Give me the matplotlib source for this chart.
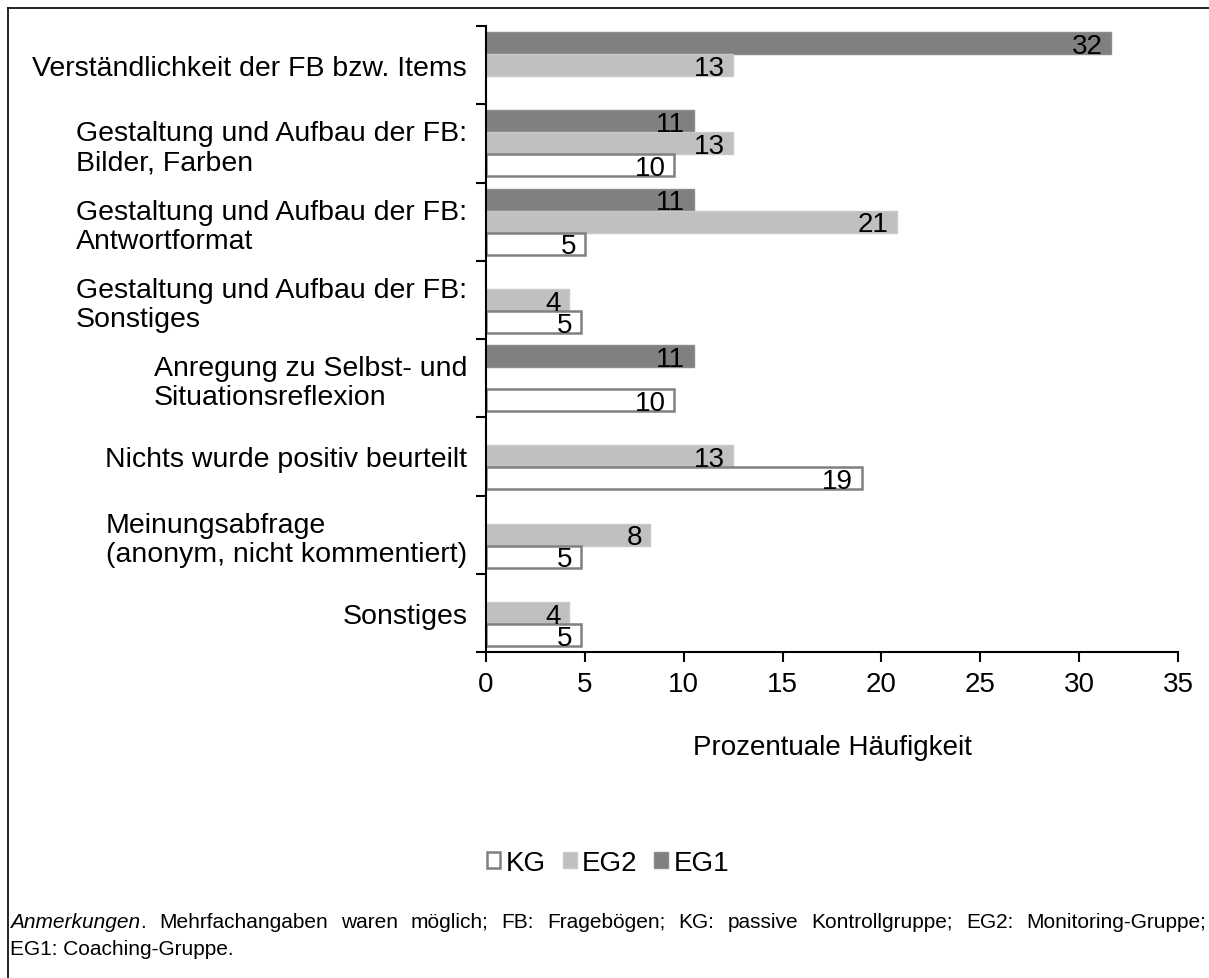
import numpy as np
import matplotlib
matplotlib.use("Agg")
import matplotlib.pyplot as plt
from matplotlib.lines import Line2D

plt.rcParams["font.family"] = ["Liberation Sans", "DejaVu Sans"]

categories = [
    "Verständlichkeit der FB bzw. Items",
    "Gestaltung und Aufbau der FB:\nBilder, Farben",
    "Gestaltung und Aufbau der FB:\nAntwortformat",
    "Gestaltung und Aufbau der FB:\nSonstiges",
    "Anregung zu Selbst- und\nSituationsreflexion",
    "Nichts wurde positiv beurteilt",
    "Meinungsabfrage\n(anonym, nicht kommentiert)",
    "Sonstiges",
]
# percentages (nan = no bar)
kg = [np.nan, 9.5, 5.0, 4.8, 9.5, 19.0, 4.8, 4.8]
eg2 = [12.5, 12.5, 20.8, 4.2, np.nan, 12.5, 8.3, 4.2]
eg1 = [31.6, 10.5, 10.5, np.nan, 10.5, np.nan, np.nan, np.nan]
# printed labels
kg_lab = [None, 10, 5, 5, 10, 19, 5, 5]
eg2_lab = [13, 13, 21, 4, None, 13, 8, 4]
eg1_lab = [32, 11, 11, None, 11, None, None, None]

note_words = ["Mehrfachangaben", "waren", "möglich;", "FB:", "Fragebögen;", "KG:", "passive",
              "Kontrollgruppe;", "EG2:", "Monitoring-Gruppe;"]
note_line2 = "EG1: Coaching-Gruppe."

FS = 20
W, H = 1209, 979
fig = plt.figure(figsize=(W / 100, H / 100), dpi=100)
ax = fig.add_axes([486 / W, 1 - 653 / H, (1178 - 486) / W, (653 - 27) / H])

y = np.arange(len(categories))
h = 0.281
series = [
    ("EG1", eg1, eg1_lab, -h, "#808080", "#8c8c8c", 1.0),
    ("EG2", eg2, eg2_lab, 0.0, "#c0c0c0", "#c8c8c8", 1.0),
    ("KG", kg, kg_lab, h, "white", "#808080", 1.8),
]
handles = {}
for name, vals, labs, off, fc, ec, lw in series:
    bars = ax.barh(y + off, vals, height=h, color=fc, edgecolor=ec, linewidth=lw, label=name)
    handles[name] = bars
    for yi, v, lab in zip(y, vals, labs):
        if lab is None:
            continue
        ax.annotate(str(lab), (v, yi + off), xytext=(-6, -2), textcoords="offset points",
                    ha="right", va="center", fontsize=FS, color="black")

ax.set_xlim(0, 35)
ax.set_ylim(len(categories) - 0.5, -0.5)
ax.set_xticks(np.arange(0, 36, 5))
ax.tick_params(axis="x", direction="out", length=7, width=1.5, labelsize=FS, pad=7)
ax.set_yticks(np.arange(-0.5, len(categories), 1.0))
ax.set_yticklabels([])
ax.tick_params(axis="y", direction="out", length=7, width=1.5)
ax.set_yticks(y, minor=True)
ax.set_yticklabels(categories, minor=True, fontsize=20.5, linespacing=1.15, multialignment="left")
ax.tick_params(axis="y", which="minor", length=0, pad=13.5)
for s in ["top", "right"]:
    ax.spines[s].set_visible(False)
for s in ["left", "bottom"]:
    ax.spines[s].set_linewidth(1.5)

ax.set_xlabel("Prozentuale Häufigkeit", fontsize=FS, labelpad=26)

fig.legend([handles["KG"], handles["EG2"], handles["EG1"]], ["KG", "EG2", "EG1"],
           loc="center", bbox_to_anchor=(608 / W, 1 - 864 / H), ncol=3, frameon=False,
           fontsize=FS, handlelength=0.5, handleheight=0.5, handletextpad=0.2, columnspacing=0.6)

# outer frame (top and left edge)
fig.add_artist(Line2D([8 / W, 1.0], [1 - 9 / H, 1 - 9 / H], color="black", lw=1.2))
fig.add_artist(Line2D([8 / W, 8 / W], [1 - 9 / H, 0.0], color="black", lw=1.2))

# note below the chart, first line justified to the right edge
NFS = 15
y1, y2 = 1 - 923 / H, 1 - 950 / H
fig.canvas.draw()
r = fig.canvas.get_renderer()
first = fig.text(10 / W, y1, "Anmerkungen", style="italic", fontsize=NFS, va="center")
x = first.get_window_extent(r).x1
dot = fig.text(x / W, y1, ".", fontsize=NFS, va="center")
x = dot.get_window_extent(r).x1
objs = [fig.text(0, y1, w, fontsize=NFS, va="center") for w in note_words]
widths = [o.get_window_extent(r).width for o in objs]
gap = (1206 - x - sum(widths)) / len(objs)
for o, wd in zip(objs, widths):
    x += gap
    o.set_x(x / W)
    x += wd
fig.text(10 / W, y2, note_line2, fontsize=NFS, va="center")

fig.savefig("out.png", dpi=100)
